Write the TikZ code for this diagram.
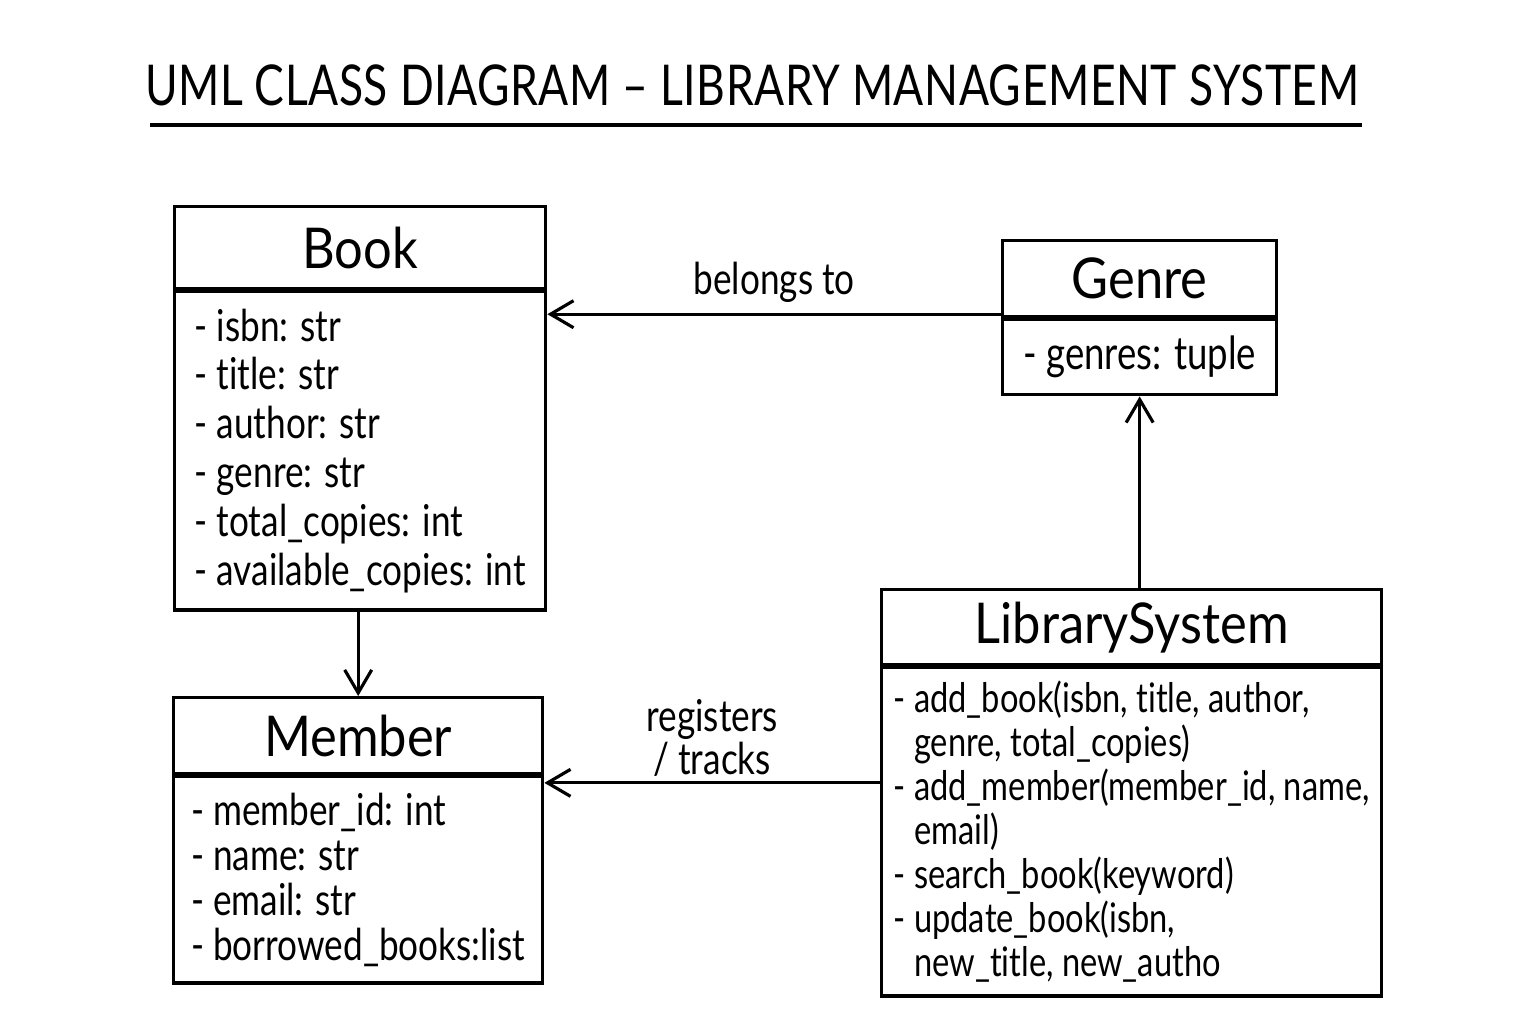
\documentclass[tikz,border=0pt]{standalone}
\usepackage{fontspec}
\setmainfont{Lato}[FakeStretch=0.8,Ligatures=NoCommon]
\newfontfamily\titlefont{Lato}[LetterSpace=1,FakeStretch=0.79,Ligatures=NoCommon]
\newfontfamily\headfont{Lato}[FakeStretch=0.9,Ligatures=NoCommon]
\usetikzlibrary{positioning,arrows.meta}
\tikzset{
  classhead/.style={draw, line width=0.9pt, anchor=north west, inner sep=0pt, font=\headfont\fontsize{16}{19}\selectfont},
  classattr/.style={draw, line width=0.9pt, anchor=north west, inner sep=0pt, align=left},
  assoc/.style={line width=0.9pt, -{Straight Barb[length=2.3mm,width=2.7mm]}},
  assoclabel/.style={font=\fontsize{12.5}{12.3}\selectfont, align=center}
}
\begin{document}
\begin{tikzpicture}[x=0.01cm, y=-0.01cm]
\useasboundingbox (0,0) rectangle (1536,1024);
\node[font=\titlefont\fontsize{16}{19}\selectfont] (title) at (752,85) {UML CLASS DIAGRAM – LIBRARY MANAGEMENT SYSTEM};
\coordinate (ulA) at (150,125);
\coordinate (ulB) at (1362,125);
\draw[line width=0.9pt] (ulA) -- (ulB);
% classes
\node[classhead, minimum width=3.71cm, minimum height=0.82cm] (book) at (173,205) {Book};
\node[classattr, minimum width=3.71cm, minimum height=3.18cm, font=\fontsize{12.5}{13.9}\selectfont] (bookattr) at (book.south west)
  {- isbn: str\\- title: str\\- author: str\\- genre: str\\- total\_copies: int\\- available\_copies: int};
\node[classhead, minimum width=2.74cm, minimum height=0.76cm] (genre) at (1001,239) {Genre};
\node[classattr, minimum width=2.74cm, minimum height=0.75cm, font=\fontsize{13}{14}\selectfont] (genreattr) at (genre.south west) {- genres: tuple};
\node[classhead, minimum width=3.69cm, minimum height=0.76cm] (member) at (172,696) {Member};
\node[classattr, minimum width=3.69cm, minimum height=2.06cm, font=\fontsize{12.5}{12.8}\selectfont] (memberattr) at (member.south west)
  {- member\_id: int\\- name: str\\- email: str\\- borrowed\_books:list};
\node[classhead, minimum width=5.0cm, minimum height=0.75cm] (lib) at (880,588) {LibrarySystem};
\node[classattr, minimum width=5.0cm, minimum height=3.28cm, font=\fontsize{11.6}{12.5}\selectfont] (libattr) at (lib.south west)
  {- add\_book(isbn, title, author,\\\hphantom{- }genre, total\_copies)\\- add\_member(member\_id, name,\\\hphantom{- }email)\\- search\_book(keyword)\\- update\_book(isbn,\\\hphantom{- }new\_title, new\_autho};
% associations
\draw[assoc] ([yshift=0.04cm]genre.south west) -- node[assoclabel, midway, above=-0.02cm] {belongs to} ([yshift=0.04cm]genre.south west -| bookattr.east);
\draw[assoc] (lib.north -| genreattr.south) -- (genreattr.south);
\draw[assoc] (bookattr.south -| member.north) -- (member.north);
\draw[assoc] ([yshift=0.49cm]libattr.west) -- node[assoclabel, midway, above=-0.07cm] {registers\\/ tracks} ([yshift=0.49cm]libattr.west -| memberattr.east);
\end{tikzpicture}
\end{document}
